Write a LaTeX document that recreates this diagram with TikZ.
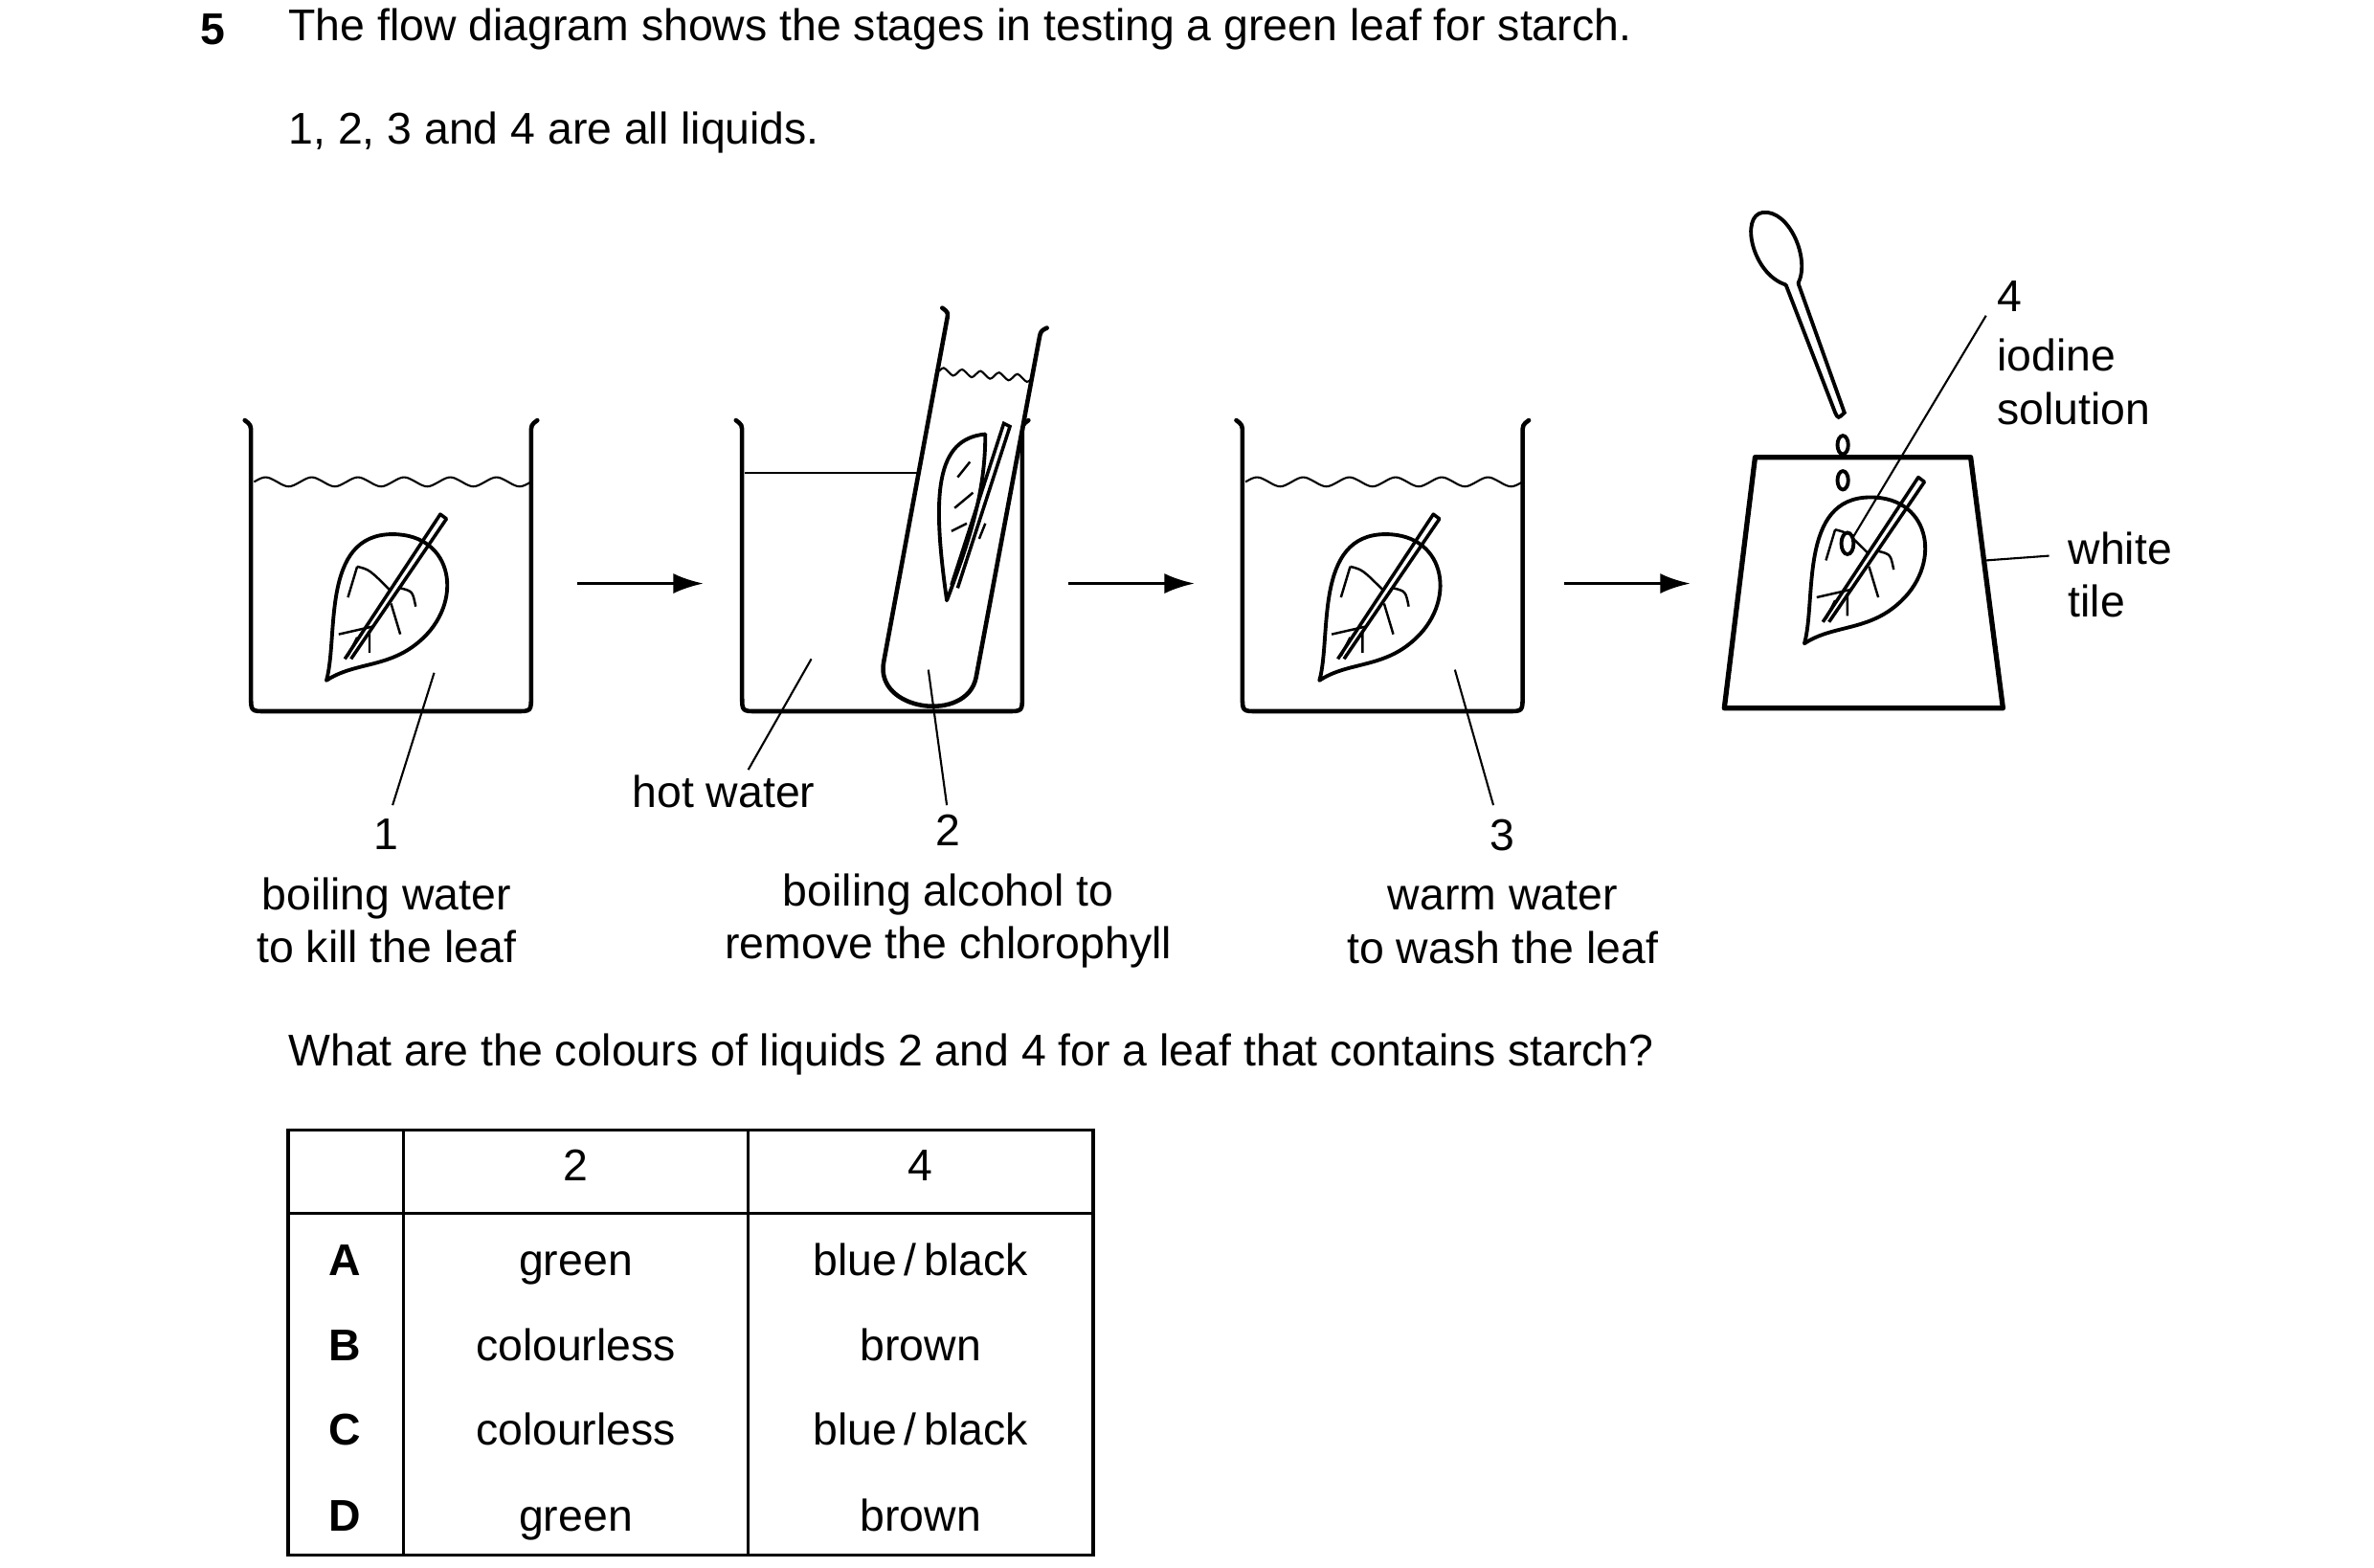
\documentclass[tikz,border=0pt]{standalone}
\usepackage{fontspec}
\setmainfont{Liberation Sans}
\usetikzlibrary{arrows.meta}
\begin{document}
\begin{tikzpicture}[x=0.01608cm,y=-0.01608cm,
  txt/.style={inner sep=0pt,font=\fontsize{13.2}{15.8}\selectfont,align=center},
  lt/.style={txt,anchor=west,align=left},
  cell/.style={txt,text height=0.75em,text depth=0.22em},
  thick1/.style={line width=1.3pt,line join=round,line cap=round},
  thin1/.style={line width=0.6pt},
  arr/.style={line width=1pt,-{Latex[length=9pt,width=6pt]}},
  leaf/.pic={
    \draw[thick1,line width=1.1pt] (-38,50) .. controls (-30,22) and (-42,-45) .. (5,-45) .. controls (45,-45) and (52,0) .. (22,25) .. controls (2,42) and (-20,38) .. (-38,50);
    \draw[line width=1pt,line join=round] (-26,36) -- (36,-58) -- (40,-55) -- (-22,36);
    \draw[line width=0.7pt] (-8,15) -- (-30,20) (-18,22) -- (-24,34) (-10,18) -- (-10,32) (4,0) -- (10,20) (10,-10) .. controls (18,-8) .. (20,2) (4,-8) .. controls (-10,-22) .. (-18,-24) (-24,-4) -- (-18,-24);
  }]
\useasboundingbox (0,0) rectangle (1542,1018);
% header
\node[txt,anchor=west,font=\fontsize{13.2}{15.8}\selectfont\bfseries] (q) at (130,19) {5};
\node[lt] (t1) at (187,19) {The flow diagram shows the stages in testing a green leaf for starch.};
\node[lt] (t2) at (187,86) {1, 2, 3 and 4 are all liquids.};
% beakers
\foreach \bx in {163,482,807}{
  \draw[thick1] (\bx-4,273) .. controls (\bx,276) .. (\bx,282) -- (\bx,452) .. controls (\bx,462) .. (\bx+10,462) -- (\bx+172,462) .. controls (\bx+182,462) .. (\bx+182,452) -- (\bx+182,282) .. controls (\bx+182,276) .. (\bx+186,273);
}
\draw[thin1] (165,313) \foreach \i in {0,...,5}{ .. controls +(7,-4) and +(-7,-4) .. ++(15,0) .. controls +(7,4) and +(-7,4) .. ++(15,0)};
\draw[thin1] (809,313) \foreach \i in {0,...,5}{ .. controls +(7,-4) and +(-7,-4) .. ++(15,0) .. controls +(7,4) and +(-7,4) .. ++(15,0)};
\draw[thin1] (484,307) -- (604,307);
\pic at (250,392) {leaf};
\pic at (895,392) {leaf};
% test tube
\draw[thick1,fill=white] (612,200) .. controls (616,203) .. (615,208) -- (574,430) .. controls (568,462) and (628,470) .. (634,440) -- (675,220) .. controls (676,215) .. (680,213);
\draw[thin1] (610,241) \foreach \i in {0,...,4}{ .. controls +(3,-3) and +(-3,-3) .. ++(6,0.5) .. controls +(3,3) and +(-3,3) .. ++(6,0.5)};
\draw[thick1,line width=1.1pt] (640,282) .. controls (608,285) and (605,320) .. (615,390) .. controls (630,350) and (640,320) .. (640,282);
\draw[line width=1pt] (618,380) -- (652,275) -- (656,277) -- (622,382);
\draw[line width=0.7pt] (632,320) -- (620,330) (628,340) -- (618,345) (630,300) -- (622,310) (636,350) -- (640,340);
% arrows
\coordinate (a1s) at (375,379); \coordinate (a1e) at (457,379);
\coordinate (a2s) at (694,379); \coordinate (a2e) at (776,379);
\coordinate (a3s) at (1016,379); \coordinate (a3e) at (1098,379);
\draw[arr] (a1s) -- (a1e);
\draw[arr] (a2s) -- (a2e);
\draw[arr] (a3s) -- (a3e);
% tile
\draw[thick1,line width=1.5pt] (1140,297) -- (1280,297) -- (1301,460) -- (1120,460) -- cycle;
\pic at (1210,368) {leaf};
\draw[line width=1.1pt,fill=white] (1200,353) ellipse (4 and 7);
% spoon
\draw[thick1,line width=1.1pt] (1160,185) .. controls (1138,178) and (1130,140) .. (1145,138) .. controls (1162,136) and (1176,168) .. (1168,184);
\draw[line width=1.1pt] (1160,185) -- (1192,268) .. controls (1194,272) .. (1198,268) -- (1168,184);
\draw[line width=1.1pt] (1197,289) ellipse (3.5 and 6);
\draw[line width=1.1pt] (1197,312) ellipse (3.5 and 6);
% labels
\node[txt] (l1) at (251,579) {1\\[2pt]boiling water\\to kill the leaf};
\node[txt] (hw) at (470,514) {hot water};
\node[txt] (l2) at (616,579) {2\\[2pt]boiling alcohol to\\remove the chlorophyll};
\node[txt] (l3) at (976,579) {3\\[2pt]warm water\\to wash the leaf};
\coordinate (p1) at (282,437); \coordinate (q1) at (255,523);
\coordinate (p2) at (527,428); \coordinate (q2) at (486,500);
\coordinate (p3) at (603,435); \coordinate (q3) at (615,523);
\coordinate (p4) at (945,435); \coordinate (q4) at (970,523);
\coordinate (p5) at (1203,350); \coordinate (q5) at (1290,205);
\coordinate (p6) at (1290,364); \coordinate (q6) at (1331,361);
\draw[thin1] (q1) -- (p1); \draw[thin1] (q2) -- (p2); \draw[thin1] (q3) -- (p3);
\draw[thin1] (q4) -- (p4); \draw[thin1] (q5) -- (p5); \draw[thin1] (q6) -- (p6);
\node[lt,anchor=north west] (l4) at (1297,182) {4\\[2pt]iodine\\solution};
\node[lt,anchor=north west] (l5) at (1343,345) {white\\tile};
\node[lt] (qq) at (187,685) {What are the colours of liquids 2 and 4 for a leaf that contains starch?};
% table
\draw[line width=1pt] (187,734) rectangle (710,1010);
\draw[line width=1pt] (187,788) -- (710,788) (262,734) -- (262,1010) (486,734) -- (486,1010);
\node[cell] (h2) at (374,761) {2};
\node[cell] (h4) at (598,761) {4};
\foreach \y/\l/\a/\b in {823/A/green/{blue\,/\,black},878/B/colourless/brown,933/C/colourless/{blue\,/\,black},989/D/green/brown}{
  \node[cell,font=\fontsize{13.2}{15.8}\selectfont\bfseries] at (224,\y) {\l};
  \node[cell] at (374,\y) {\a};
  \node[cell] at (598,\y) {\b};
}
\end{tikzpicture}
\end{document}
